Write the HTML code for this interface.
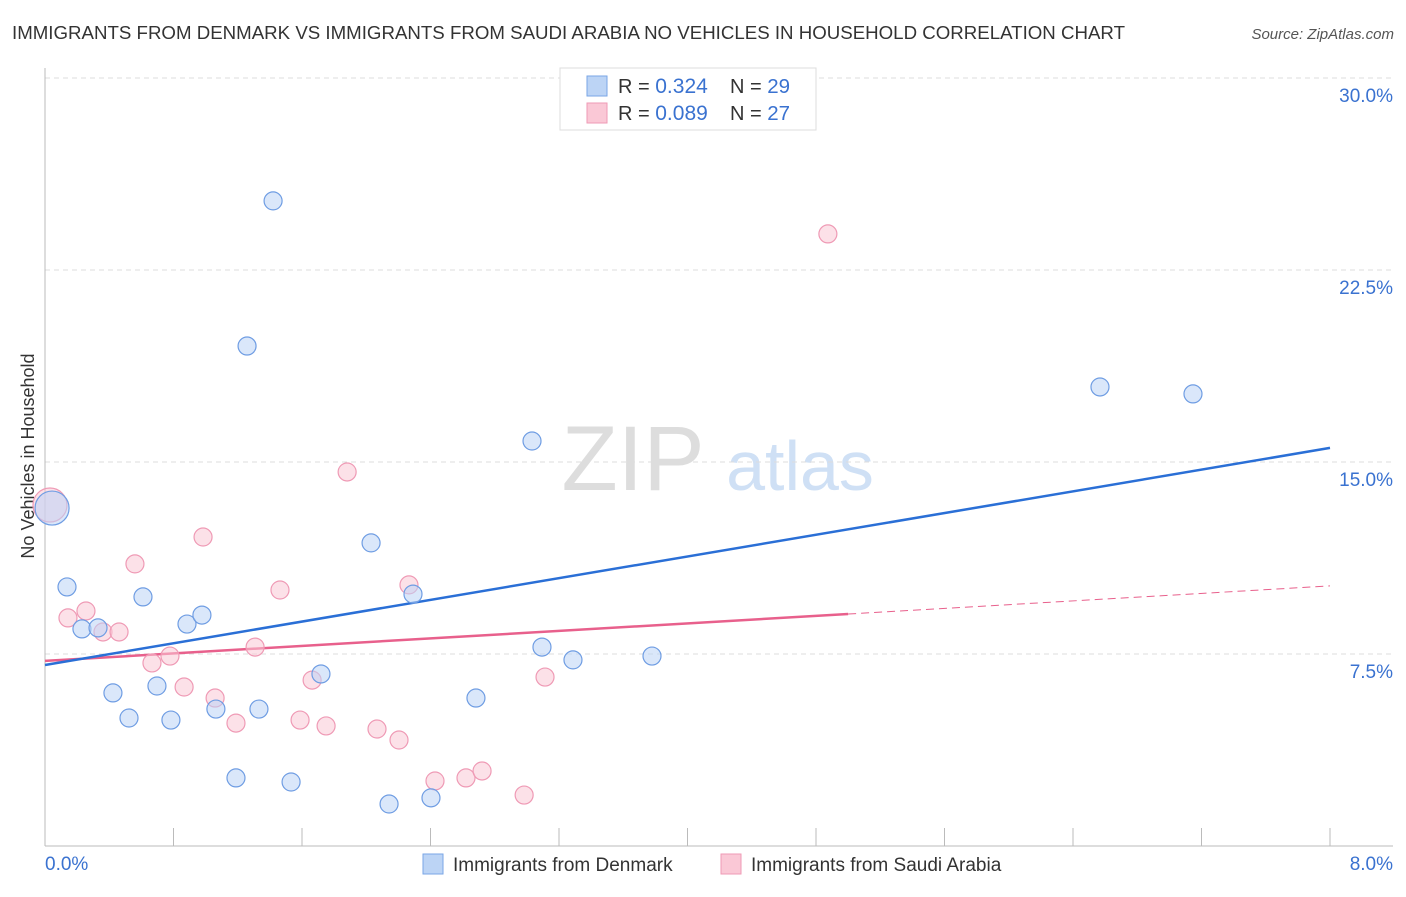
<!DOCTYPE html>
<html><head><meta charset="utf-8"><style>
body{margin:0;background:#fff;font-family:"Liberation Sans",sans-serif;}
svg text{font-family:"Liberation Sans",sans-serif;}
</style></head><body>
<svg id="c" width="1406" height="892">
<text x="12" y="39" font-size="18" fill="#333" textLength="1113" lengthAdjust="spacingAndGlyphs">IMMIGRANTS FROM DENMARK VS IMMIGRANTS FROM SAUDI ARABIA NO VEHICLES IN HOUSEHOLD CORRELATION CHART</text>
<text x="1394" y="39" font-size="15" fill="#555" font-style="italic" text-anchor="end">Source: ZipAtlas.com</text>
<text x="633" y="490" font-size="92" fill="#ddd" font-family="Liberation Serif" text-anchor="middle">ZIP</text>
<text x="800" y="490" font-size="70" fill="#cfe0f5" text-anchor="middle">atlas</text>
<text transform="translate(34,456) rotate(-90)" font-size="18" fill="#333" text-anchor="middle">No Vehicles in Household</text>
<g id="grid"></g><g id="lines"></g><g id="pts"></g>
<g>
<rect x="560" y="68" width="256" height="62" fill="#fff" stroke="#ddd"/>
<rect x="587" y="76" width="20" height="20" fill="#bcd4f5" stroke="#7aa6e6"/>
<rect x="587" y="103" width="20" height="20" fill="#fac8d6" stroke="#ef9ab5"/>
<text x="618" y="93" font-size="20" fill="#333">R = <tspan fill="#3a72d0" font-size="21">0.324</tspan></text>
<text x="730" y="93" font-size="20" fill="#333">N = <tspan fill="#3a72d0" font-size="20.5">29</tspan></text>
<text x="618" y="120" font-size="20" fill="#333">R = <tspan fill="#3a72d0" font-size="21">0.089</tspan></text>
<text x="730" y="120" font-size="20" fill="#333">N = <tspan fill="#3a72d0" font-size="20.5">27</tspan></text>
</g>
<g>
<rect x="423" y="854" width="20" height="20" fill="#bcd4f5" stroke="#7aa6e6"/>
<text x="453" y="871" font-size="19" fill="#333">Immigrants from Denmark</text>
<rect x="721" y="854" width="20" height="20" fill="#fac8d6" stroke="#ef9ab5"/>
<text x="751" y="871" font-size="19" fill="#333">Immigrants from Saudi Arabia</text>
</g>
<text x="45" y="870" font-size="19" fill="#3a72d0">0.0%</text>
<text x="1393" y="870" font-size="19" fill="#3a72d0" text-anchor="end">8.0%</text>
</svg>
<script>
const yTicks=[7.5,15,22.5,30];
const yTickLabels=["7.5%","15.0%","22.5%","30.0%"];
const denX=[0.044,0.137,0.230,0.330,0.423,0.523,0.610,0.697,0.784,0.884,0.977,1.064,1.189,1.258,1.332,1.420,1.532,1.718,2.030,2.142,2.291,2.403,2.683,3.032,3.094,3.287,3.779,6.568,7.147];
const denY=[13.20,10.12,8.48,8.52,5.98,5.00,9.73,6.25,4.92,8.67,9.02,5.35,2.66,19.53,5.35,25.20,2.50,6.72,11.84,1.64,9.84,1.88,5.78,15.82,7.77,7.27,7.42,17.93,17.66];
const sauX=[0.031,0.143,0.255,0.361,0.461,0.560,0.666,0.778,0.866,0.984,1.059,1.189,1.308,1.463,1.588,1.663,1.750,1.881,2.067,2.204,2.266,2.428,2.621,2.721,2.983,3.113,4.874];
const sauY=[13.32,8.91,9.18,8.36,8.36,11.02,7.15,7.42,6.21,12.07,5.78,4.80,7.77,10.00,4.92,6.48,4.69,14.61,4.57,4.14,10.20,2.54,2.66,2.93,1.99,6.60,23.91];
const denTrend=[7.07,15.55];
const sauTrend=[7.23,10.16];
const sauSolidEnd=5.0;
const NS="http://www.w3.org/2000/svg";
const X=v=>45+v/8*1285, Y=v=>846-v/7.5*192;
function mk(t,a,p){const e=document.createElementNS(NS,t);for(const k in a)e.setAttribute(k,a[k]);p.appendChild(e);return e;}
const g=document.getElementById('grid');
yTicks.forEach((t,i)=>{
 const l=mk('line',{x1:45,x2:1393,y1:Y(t),y2:Y(t),stroke:'#ddd','stroke-dasharray':'5,4'},g);
 
 
 const tx=mk('text',{x:1393,y:Y(t)+24,'font-size':19,fill:'#3a72d0','text-anchor':'end'},g);
 tx.textContent=yTickLabels[i];
 
 
});
const ax=mk('line',{x1:45,x2:45,y1:68,y2:846,stroke:'#bbb'},g);


const bx=mk('line',{x1:45,x2:1393,y1:846,y2:846,stroke:'#bbb'},g);


for(let i=0;i<=10;i++){const t=mk('line',{x1:X(i*0.8),x2:X(i*0.8),y1:828,y2:846,stroke:'#bbb'},g);
 
 }
const pg=document.getElementById('pts');
function pts(xs,ys,fill,stroke,name){xs.forEach((x,i)=>{const big=i===0&&x<0.06;
 const c=mk('circle',{cx:X(x),cy:Y(ys[i]),r:big?17:9,fill:fill,'fill-opacity':0.55,stroke:stroke,'stroke-width':1.2},pg);
 
 });}
pts(sauX,sauY,'#fac8d6','#ef9ab5','saudi-point');
pts(denX,denY,'#bcd4f5','#6f9de3','denmark-point');
const lg=document.getElementById('lines');
const s1=mk('line',{x1:X(0),y1:Y(sauTrend[0]),x2:X(sauSolidEnd),y2:Y(sauTrend[0]+(sauTrend[1]-sauTrend[0])*sauSolidEnd/8),stroke:'#e8608c','stroke-width':2.5},lg);


const s2=mk('line',{x1:X(sauSolidEnd),y1:Y(sauTrend[0]+(sauTrend[1]-sauTrend[0])*sauSolidEnd/8),x2:X(8),y2:Y(sauTrend[1]),stroke:'#e8608c','stroke-width':1,'stroke-dasharray':'8,5'},lg);


const d1=mk('line',{x1:X(0),y1:Y(denTrend[0]),x2:X(8),y2:Y(denTrend[1]),stroke:'#2a6fd6','stroke-width':2.5},lg);


</script>
</body></html>
